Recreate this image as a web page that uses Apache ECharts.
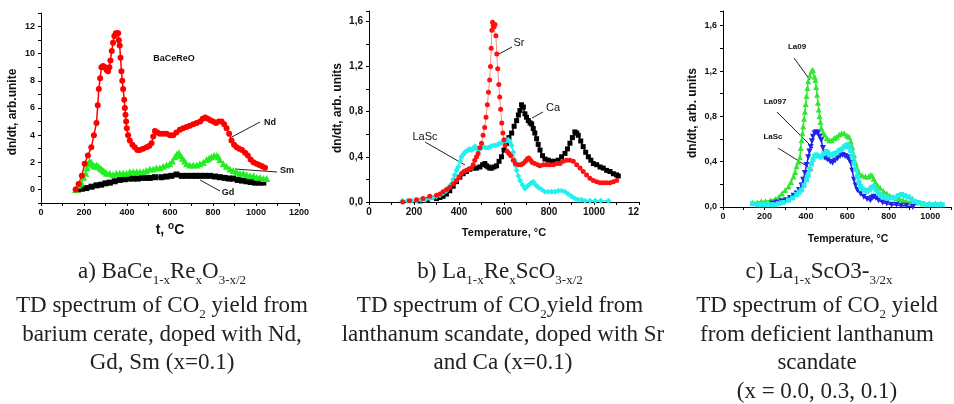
<!DOCTYPE html>
<html><head><meta charset="utf-8">
<script src="https://cdn.jsdelivr.net/npm/echarts@6/dist/echarts.min.js"></script>
<style>html,body{margin:0;padding:0;background:#fff}#c{width:954px;height:404px}</style>
</head><body><div id="c"></div><script>
// ---------- Chart a : BaCe(1-x)Re(x)O(3-x/2) ----------
const ndT = [161,175,190,203,218,234,246,258,264,269,275,281,289,297,305,312,318,323,329,335,341,348,354,359,362,366,370,374,378,382,387,390,393,396,399,405,413,425,436,448,460,475,491,503,514,522,530,541,553,568,584,600,615,630,646,661,677,692,708,724,740,752,764,776,788,801,814,827,840,852,863,875,886,898,910,922,935,949,962,975,988,1002,1015,1028,1042];
const ndY = [0.0,0.4,1.0,1.9,2.5,3.1,4.0,4.9,6.2,7.4,8.2,9.0,9.1,9.0,8.8,8.7,9.0,9.5,10.2,10.8,11.3,11.5,11.5,11.5,11.0,10.6,9.7,8.7,8.0,7.4,6.6,6.0,5.5,5.0,4.5,4.0,3.6,3.3,3.1,2.9,2.9,3.0,3.1,3.2,3.4,3.9,4.3,4.2,4.1,4.1,4.1,4.0,4.0,4.2,4.4,4.5,4.6,4.7,4.8,4.9,5.0,5.2,5.3,5.2,5.1,5.0,4.9,5.0,5.0,4.8,4.5,4.1,3.6,3.3,3.1,3.0,2.9,2.7,2.5,2.2,2.0,1.9,1.8,1.7,1.6];
const smT = [161,172,180,188,198,208,214,219,226,234,242,250,258,266,274,281,289,297,305,320,335,350,366,382,398,413,429,445,460,475,490,506,522,537,553,568,584,599,611,623,632,641,650,658,668,677,692,708,724,739,755,770,782,793,805,817,825,832,848,863,879,894,910,925,941,956,972,988,1004,1019,1035,1050];
const smY = [0.0,0.3,0.4,0.5,0.9,1.2,1.6,1.9,2.1,2.0,1.8,1.7,1.8,1.7,1.6,1.5,1.4,1.3,1.2,1.2,1.1,1.2,1.2,1.2,1.2,1.3,1.3,1.3,1.3,1.3,1.4,1.5,1.5,1.6,1.6,1.7,1.8,1.9,2.1,2.4,2.6,2.7,2.5,2.3,2.1,1.9,1.8,1.8,1.8,1.9,2.0,2.2,2.3,2.4,2.5,2.5,2.4,2.2,1.9,1.7,1.5,1.4,1.3,1.2,1.2,1.1,1.0,1.0,0.9,0.9,0.8,0.8];
const gdT = [172,190,211,235,258,280,300,320,343,366,390,410,429,450,470,490,506,530,560,584,606,630,655,677,700,720,739,762,786,810,832,855,875,894,915,935,956,975,995,1015,1034];
const gdY = [0.0,0.05,0.1,0.2,0.3,0.35,0.45,0.5,0.6,0.7,0.75,0.8,0.8,0.8,0.85,0.85,0.85,0.9,0.9,0.95,1.0,1.1,1.0,1.0,1.0,1.0,1.0,1.0,1.0,0.95,0.9,0.85,0.8,0.8,0.7,0.65,0.6,0.55,0.5,0.5,0.5];

// ---------- Chart b : La(1-x)Re(x)ScO(3-x/2) ----------
const srT = [150,180,211,240,270,300,315,329,344,359,374,389,400,411,422,433,444,455,463,470,478,485,493,500,507,514,520,526,531,536,540,543,546,549,552,556,560,564,568,572,577,581,585,590,595,600,605,614,622,630,641,650,663,675,685,695,703,710,718,726,737,750,760,775,790,804,820,835,849,863,878,893,908,923,938,952,967,982,997,1012,1027,1042,1056,1071,1086,1101];
const srY = [0.0,0.01,0.02,0.03,0.05,0.06,0.07,0.09,0.11,0.13,0.16,0.19,0.22,0.25,0.27,0.28,0.29,0.30,0.33,0.37,0.40,0.43,0.48,0.52,0.59,0.66,0.75,0.86,0.97,1.08,1.20,1.36,1.52,1.59,1.56,1.55,1.57,1.47,1.31,1.18,1.04,0.93,0.82,0.70,0.61,0.55,0.50,0.45,0.43,0.41,0.37,0.34,0.33,0.33,0.34,0.36,0.38,0.39,0.37,0.35,0.34,0.33,0.32,0.33,0.33,0.33,0.33,0.34,0.34,0.36,0.37,0.37,0.36,0.33,0.30,0.27,0.24,0.21,0.19,0.18,0.17,0.17,0.17,0.17,0.18,0.19];
const caT = [226,260,300,315,329,344,359,374,389,404,418,433,448,463,478,493,505,515,522,530,537,545,556,567,578,589,600,611,622,634,645,656,664,671,678,686,693,700,708,716,723,730,737,745,752,760,771,782,797,812,826,841,856,871,882,893,904,915,923,930,941,952,963,975,986,997,1012,1027,1041,1056,1071,1086,1100,1108];
const caY = [0.01,0.02,0.03,0.04,0.05,0.07,0.10,0.14,0.18,0.22,0.25,0.27,0.29,0.30,0.30,0.31,0.33,0.34,0.32,0.31,0.30,0.30,0.31,0.32,0.36,0.40,0.46,0.52,0.57,0.61,0.67,0.72,0.77,0.81,0.86,0.84,0.78,0.75,0.72,0.70,0.69,0.65,0.61,0.56,0.51,0.46,0.41,0.38,0.37,0.36,0.36,0.37,0.40,0.43,0.47,0.52,0.57,0.62,0.61,0.59,0.54,0.49,0.44,0.40,0.37,0.34,0.33,0.31,0.30,0.28,0.27,0.25,0.24,0.23];
const lscBT = [148,170,190,211,230,250,270,285,300,315,330,344,355,366,374,381,389,396,404,411,419,426,433,441,448,455,463,470,478,485,493,500,507,518,530,541,552,563,574,585,596,608,619,627,634,641,648,652,656,664,671,682,693,704,715,723,730,741,752,767,782,797,812,826,841,856,871,885,900,915,930,945,960,982,1005,1030,1064];
const lscBY = [0.01,0.01,0.01,0.01,0.02,0.02,0.03,0.04,0.05,0.06,0.08,0.10,0.13,0.16,0.20,0.24,0.28,0.31,0.36,0.40,0.42,0.44,0.45,0.46,0.47,0.46,0.47,0.49,0.48,0.46,0.47,0.48,0.49,0.48,0.48,0.49,0.50,0.50,0.51,0.52,0.53,0.54,0.55,0.53,0.50,0.44,0.37,0.32,0.28,0.23,0.19,0.15,0.12,0.14,0.16,0.17,0.18,0.15,0.13,0.11,0.09,0.09,0.09,0.09,0.10,0.10,0.09,0.07,0.05,0.03,0.02,0.02,0.01,0.01,0.01,0.01,0.01];

// ---------- Chart c : La(1-x)ScO(3-3/2x) ----------
const la09T = [142,165,185,205,230,253,270,284,300,316,328,340,348,355,363,371,375,379,383,387,391,395,399,403,407,411,419,427,434,442,446,450,454,458,462,466,470,474,482,490,501,513,525,537,549,561,573,585,597,608,616,624,632,640,648,656,671,687,703,711,719,727,735,746,758,774,790,805,821,837,853,869,885,908,932,963,995,1025,1051];
const la09Y = [0.04,0.04,0.05,0.05,0.06,0.07,0.09,0.12,0.15,0.18,0.22,0.27,0.31,0.36,0.40,0.44,0.52,0.59,0.65,0.71,0.78,0.84,0.91,0.98,1.05,1.11,1.16,1.20,1.21,1.15,1.12,1.06,0.99,0.92,0.86,0.80,0.75,0.70,0.66,0.64,0.61,0.59,0.59,0.61,0.62,0.64,0.65,0.65,0.63,0.62,0.58,0.53,0.46,0.39,0.34,0.30,0.28,0.27,0.27,0.28,0.28,0.25,0.22,0.19,0.17,0.14,0.12,0.10,0.09,0.08,0.07,0.06,0.05,0.04,0.04,0.03,0.03,0.03,0.03];
const la097T = [237,260,284,304,324,340,355,367,379,387,395,403,411,417,423,429,434,442,450,458,466,474,482,490,498,506,518,529,541,553,565,577,589,600,608,616,624,632,640,648,663,679,695,711,719,727,738,750,770,790,813,837,860,885,916];
const la097Y = [0.03,0.04,0.05,0.06,0.08,0.10,0.12,0.15,0.19,0.24,0.30,0.37,0.44,0.49,0.53,0.58,0.62,0.65,0.66,0.65,0.62,0.59,0.52,0.44,0.43,0.42,0.40,0.39,0.41,0.43,0.45,0.46,0.45,0.44,0.42,0.39,0.32,0.24,0.19,0.15,0.12,0.09,0.07,0.06,0.08,0.09,0.08,0.06,0.04,0.03,0.02,0.02,0.01,0.01,0.00];
const lscCT = [142,165,185,205,230,250,268,290,316,336,355,367,379,391,403,411,419,427,434,442,450,462,474,486,498,505,513,525,537,549,561,573,585,593,600,608,616,624,632,640,648,656,664,671,683,695,706,715,727,738,750,764,778,790,809,829,845,861,877,893,909,924,944,964,985,1006,1027,1045,1058];
const lscCY = [0.03,0.02,0.02,0.02,0.02,0.02,0.03,0.04,0.06,0.08,0.11,0.13,0.15,0.19,0.24,0.28,0.33,0.38,0.42,0.45,0.46,0.45,0.44,0.47,0.49,0.48,0.46,0.46,0.47,0.48,0.50,0.51,0.53,0.54,0.55,0.53,0.50,0.45,0.39,0.33,0.27,0.22,0.18,0.16,0.15,0.14,0.15,0.17,0.18,0.15,0.12,0.10,0.09,0.08,0.08,0.08,0.10,0.11,0.10,0.09,0.07,0.05,0.04,0.03,0.02,0.02,0.02,0.02,0.02];

// tick label values
const xTicksA = [0,200,400,600,800,1000,1200];
const yTicksA = [0,2,4,6,8,10,12];

const zip = (a, b) => a.map((v, i) => [v, b[i]]);
const chart = echarts.init(document.getElementById('c'), null, {renderer: 'canvas'});
const SANS = 'Liberation Sans, Arial, sans-serif';
const SERIF = 'Liberation Serif, Times New Roman, serif';

function xAxis(gi, max, fs, fmt) {
  return {type: 'value', gridIndex: gi, min: 0, max: max, interval: 100,
    axisLine: {onZero: false, lineStyle: {color: '#000', width: 1}},
    axisTick: {length: 3, lineStyle: {color: '#000'}},
    splitLine: {show: false},
    axisLabel: {fontSize: fs, fontWeight: 'bold', color: '#111', fontFamily: SANS, margin: 5, formatter: fmt, hideOverlap: false}};
}
function yAxis(gi, min, max, interval, fs, fmt) {
  return {type: 'value', gridIndex: gi, min: min, max: max, interval: interval,
    axisLine: {onZero: false, lineStyle: {color: '#000', width: 1}},
    axisTick: {length: 3, lineStyle: {color: '#000'}},
    splitLine: {show: false},
    axisLabel: {fontSize: fs, fontWeight: 'bold', color: '#111', fontFamily: SANS, margin: 6, formatter: fmt, hideOverlap: false}};
}
const fmtX200 = v => (xTicksA.indexOf(v) >= 0 ? String(v) : '');
const fmtXB = v => (v === 1200 ? '12\u2007\u2007' : (v % 200 === 0 ? String(v) : ''));
const fmtYA = v => (yTicksA.indexOf(v) >= 0 ? String(v) : '');
const fmtDec = v => (Math.round(v * 10) % 4 === 0 ? v.toFixed(1).replace('.', ',') : '');

function ser(name, xs, ys, xi, color, symbol, size, opts) {
  return Object.assign({
    name: name, type: 'line', xAxisIndex: xi, yAxisIndex: xi,
    data: zip(xs, ys), symbol: symbol, symbolSize: size, showSymbol: true,
    itemStyle: {color: color}, lineStyle: {color: color, width: 1.5},
    animation: false, z: 2
  }, opts || {});
}

function txt(x, y, text, font, extra) {
  return Object.assign({type: 'text', x: x, y: y, silent: true,
    style: {text: text, font: font, fill: '#111', align: 'center', verticalAlign: 'middle'}}, extra || {});
}
function ln(x1, y1, x2, y2) {
  return {type: 'line', silent: true, shape: {x1: x1, y1: y1, x2: x2, y2: y2}, style: {stroke: '#222', lineWidth: 1}};
}
const capRich = {
  m: {fontSize: 23, lineHeight: 31, fontFamily: SERIF, fill: '#222'},
  s: {fontSize: 13, lineHeight: 13, fontFamily: SERIF, fill: '#222', verticalAlign: 'bottom'}
};
function cap(x, y, text) {
  return {type: 'text', x: x, y: y, silent: true,
    style: {text: text, rich: capRich, align: 'center', verticalAlign: 'middle', fill: '#222'}};
}
const supRich = {
  m: {fontSize: 14, fontWeight: 'bold', fontFamily: SANS, fill: '#111', lineHeight: 17},
  p: {fontSize: 10, fontWeight: 'bold', fontFamily: SANS, fill: '#111', lineHeight: 10, verticalAlign: 'top'}
};

const graphics = [
  // axis titles
  txt(13, 112, 'dn/dt, arb.unite', 'bold 12px ' + SANS, {rotation: Math.PI / 2}),
  {type: 'text', x: 170, y: 230, silent: true, style: {text: '{m|t, }{p|o}{m|C}', rich: supRich, align: 'center', verticalAlign: 'middle'}},
  txt(338, 108, 'dn/dt, arb. units', 'bold 12px ' + SANS, {rotation: Math.PI / 2}),
  txt(504, 233, 'Temperature, °C', 'bold 11px ' + SANS),
  txt(693, 113, 'dn/dt, arb. units', 'bold 12px ' + SANS, {rotation: Math.PI / 2}),
  txt(848, 239, 'Temperature, °C', 'bold 10.5px ' + SANS),
  // chart a annotations
  txt(174, 59, 'BaCeReO', 'bold 9px ' + SANS),
  txt(270, 123, 'Nd', 'bold 9px ' + SANS), ln(260, 122, 230, 138),
  txt(287, 171, 'Sm', 'bold 9px ' + SANS), ln(277, 172, 235, 169),
  txt(228, 193, 'Gd', 'bold 9px ' + SANS), ln(220, 191, 200, 180),
  // chart b annotations
  txt(519, 43, 'Sr', '11px ' + SANS), ln(512, 47, 497, 55),
  txt(553, 108, 'Ca', '11px ' + SANS), ln(543, 112, 532, 118),
  txt(425, 137, 'LaSc', '11px ' + SANS), ln(425, 142, 465, 165),
  // chart c annotations
  txt(797, 47, 'La09', 'bold 8px ' + SANS), ln(794, 58, 810, 80),
  txt(775, 102, 'La097', 'bold 8px ' + SANS), ln(777, 112, 813, 148),
  txt(773, 137, 'LaSc', 'bold 8px ' + SANS), ln(778, 148, 813, 170),
  // captions
  cap(162, 272, '{m|a) BaCe}{s|1-x}{m|Re}{s|x}{m|O}{s|3-x/2}'),
  cap(162, 306, '{m|TD spectrum of CO}{s|2}{m| yield from}'),
  cap(162, 335, '{m|barium cerate, doped with Nd,}'),
  cap(162, 363, '{m|Gd, Sm (x=0.1)}'),
  cap(500, 272, '{m|b) La}{s|1-x}{m|Re}{s|x}{m|ScO}{s|3-x/2}'),
  cap(500, 306, '{m|TD spectrum of CO}{s|2}{m|yield from}'),
  cap(503, 335, '{m|lanthanum scandate, doped with Sr}'),
  cap(503, 363, '{m|and Ca (x=0.1)}'),
  cap(819, 272, '{m|c) La}{s|1-x}{m|ScO3-}{s|3/2x}'),
  cap(817, 306, '{m|TD spectrum of CO}{s|2}{m| yield}'),
  cap(817, 335, '{m|from deficient lanthanum}'),
  cap(817, 363, '{m|scandate}'),
  cap(817, 392, '{m|(x = 0.0, 0.3, 0.1)}')
];

chart.setOption({
  backgroundColor: '#fff',
  animation: false,
  grid: [
    {left: 41, top: 13, width: 258, height: 190},
    {left: 369, top: 11, width: 270, height: 191},
    {left: 723, top: 11, width: 232, height: 196}
  ],
  xAxis: [xAxis(0, 1200, 9, fmtX200), xAxis(1, 1200, 10, fmtXB), xAxis(2, 1100, 9, fmtX200)],
  yAxis: [yAxis(0, -1, 13, 1, 9, fmtYA), yAxis(1, 0, 1.69, 0.2, 10, fmtDec), yAxis(2, 0, 1.73, 0.2, 9, fmtDec)],
  series: [
    ser('Gd', gdT, gdY, 0, '#000000', 'rect', 6),
    ser('Sm', smT, smY, 0, '#22ee22', 'triangle', 7),
    ser('Nd', ndT, ndY, 0, '#ff0000', 'circle', 6),
    ser('Ca', caT, caY, 1, '#000000', 'rect', 5),
    ser('LaSc', lscBT, lscBY, 1, '#22f0f0', 'diamond', 6),
    ser('Sr', srT, srY, 1, '#ff1010', 'circle', 5, {lineStyle: {color: '#ff8a8a', width: 1}}),
    ser('La09', la09T, la09Y, 2, '#33e633', 'triangle', 6),
    ser('La097', la097T, la097Y, 2, '#2222e8', 'triangle', 6, {symbolRotate: 180}),
    ser('LaSc c', lscCT, lscCY, 2, '#22eeee', 'rect', 5)
  ],
  graphic: graphics
});
</script></body></html>
